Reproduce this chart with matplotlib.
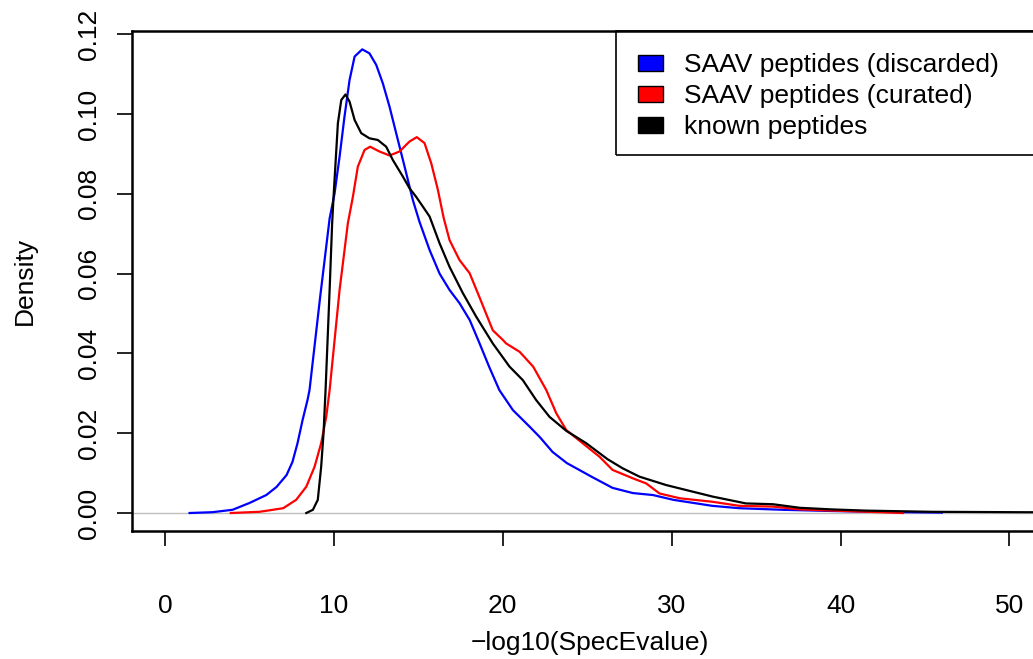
import matplotlib
matplotlib.use("Agg")
import matplotlib.pyplot as plt
from matplotlib.patches import Patch, Rectangle

plt.rcParams['font.family'] = ['Liberation Sans', 'DejaVu Sans']

# ---- data ----
series_names = ["SAAV peptides (discarded)", "SAAV peptides (curated)", "known peptides"]
series_colors = ["#0000FF", "#FF0000", "#000000"]

discarded_x = [1.46, 2.8, 4.0, 5.0, 6.0, 6.6, 7.2, 7.55, 7.85, 8.15, 8.44, 8.56, 9.2, 9.75,
               10.04, 10.34, 10.63, 10.93, 11.23, 11.68, 12.11, 12.51, 12.9, 13.3, 13.69,
               14.19, 14.68, 15.07, 15.67, 16.26, 16.85, 17.44, 18.04, 18.6, 19.2, 19.8,
               20.6, 21.6, 22.2, 22.95, 23.8, 25.3, 26.5, 27.7, 28.9, 30.1, 32.4, 34.0,
               36.6, 39.5, 42.0, 46.0]
discarded_y = [0.0000, 0.0002, 0.0008, 0.0025, 0.0045, 0.0065, 0.0095, 0.0128, 0.0175,
               0.0233, 0.0283, 0.0308, 0.0545, 0.0738, 0.0800, 0.0893, 0.0993, 0.1085,
               0.1144, 0.1162, 0.1152, 0.1123, 0.1077, 0.1018, 0.0952, 0.0868, 0.0784,
               0.0730, 0.0659, 0.0600, 0.0559, 0.0526, 0.0484, 0.0428, 0.0366, 0.0308,
               0.0258, 0.0216, 0.0190, 0.0153, 0.0125, 0.0090, 0.0063, 0.0050, 0.0045,
               0.0033, 0.0018, 0.0012, 0.0008, 0.0005, 0.0003, 0.0001]

curated_x = [3.9, 5.6, 7.0, 7.77, 8.37, 8.86, 9.25, 9.55, 9.75, 10.34, 10.83, 11.13, 11.42,
             11.82, 12.15, 12.7, 13.3, 13.89, 14.48, 14.91, 15.37, 15.77, 16.16, 16.5,
             16.85, 17.44, 18.04, 18.63, 19.41, 20.0, 20.2, 21.0, 21.8, 22.58, 23.17,
             23.76, 24.55, 25.73, 26.5, 27.7, 28.5, 29.28, 30.47, 32.44, 34.0, 36.0,
             37.6, 39.5, 42.3, 43.7]
curated_y = [0.0000, 0.0003, 0.0012, 0.0033, 0.0066, 0.0116, 0.0175, 0.0241, 0.0308,
             0.0559, 0.0726, 0.0793, 0.0868, 0.0910, 0.0918, 0.0906, 0.0896, 0.0906,
             0.0931, 0.0942, 0.0927, 0.0876, 0.0810, 0.0740, 0.0684, 0.0634, 0.0601,
             0.0540, 0.0458, 0.0434, 0.0425, 0.0404, 0.0367, 0.0308, 0.0250, 0.0208,
             0.0181, 0.0141, 0.0108, 0.0087, 0.0074, 0.0049, 0.0037, 0.0028, 0.0018,
             0.0016, 0.0009, 0.0006, 0.0002, 0.0000]

known_x = [8.37, 8.76, 9.05, 9.25, 9.39, 9.51, 9.75, 9.9, 9.98, 10.24, 10.44, 10.69, 10.93,
           11.23, 11.62, 12.11, 12.6, 13.1, 13.49, 14.09, 14.48, 14.88, 15.27, 15.67,
           16.26, 16.85, 17.64, 18.43, 19.41, 20.4, 21.19, 21.98, 22.77, 23.76, 24.94,
           26.2, 27.1, 28.1, 29.68, 32.44, 34.4, 36.0, 37.6, 39.5, 41.5, 45.4, 50.6,
           60.0, 88.0]
known_y = [0.0000, 0.0008, 0.0033, 0.0116, 0.0200, 0.0308, 0.0559, 0.0726, 0.0790,
           0.0977, 0.1035, 0.1049, 0.1031, 0.0985, 0.0952, 0.0939, 0.0935, 0.0918,
           0.0885, 0.0843, 0.0814, 0.0792, 0.0768, 0.0743, 0.0676, 0.0617, 0.0551,
           0.0492, 0.0425, 0.0367, 0.0333, 0.0283, 0.0241, 0.0206, 0.0175, 0.0135,
           0.0112, 0.0091, 0.0070, 0.0041, 0.0024, 0.0022, 0.0013, 0.0009, 0.0006,
           0.0003, 0.0002, 0.0001, 0.0000]

x_ticks = [0, 10, 20, 30, 40, 50]
y_ticks = [0.00, 0.02, 0.04, 0.06, 0.08, 0.10, 0.12]
y_tick_labels = ["0.00", "0.02", "0.04", "0.06", "0.08", "0.10", "0.12"]
x_label = "\u2212log10(SpecEvalue)"
y_label = "Density"

# ---- figure ----
W, H = 1033, 659
fig = plt.figure(figsize=(W / 100, H / 100), dpi=100)
xlim = (-1.95, 91.2)
ylim = (-0.00451, 0.1208)
left_px, right_px, top_px, bottom_px = 132, 132 + (xlim[1] - xlim[0]) * 16.89, 31, 531
ax = fig.add_axes([left_px / W, (H - bottom_px) / H,
                   (right_px - left_px) / W, (bottom_px - top_px) / H])
ax.set_xlim(*xlim)
ax.set_ylim(*ylim)

ax.axhline(0, color="#BEBEBE", lw=1.0, zorder=1)
for xs, ys, c in [(discarded_x, discarded_y, series_colors[0]),
                  (curated_x, curated_y, series_colors[1]),
                  (known_x, known_y, series_colors[2])]:
    ax.plot(xs, ys, color=c, lw=1.6, zorder=2, solid_joinstyle="round")

for s in ax.spines.values():
    s.set_linewidth(1.8)
    s.set_color("black")

fs = 19
ax.set_xticks(x_ticks)
ax.set_xticklabels([str(v) for v in x_ticks], fontsize=fs)
ax.set_yticks(y_ticks)
ax.set_yticklabels(y_tick_labels, fontsize=fs, rotation=90, va="center")
ax.tick_params(axis="both", direction="out", length=10.5, width=1.2, color="black")
ax.tick_params(axis="x", pad=35)
ax.tick_params(axis="y", pad=12)

fig.text(590 / W, 1 - 643 / H, x_label, fontsize=fs, ha="center", va="center")
fig.text(25 / W, 1 - 281 / H, y_label, fontsize=fs, ha="center", va="center", rotation=90)

# legend (frame drawn separately; it runs past the right edge as in the reference)
handles = [Patch(facecolor=c, edgecolor="black", linewidth=1.0) for c in series_colors]
leg = fig.legend(handles, series_names, loc="upper left",
                 bbox_to_anchor=(616 / W, 1 - 31 / H), fontsize=fs, frameon=False,
                 borderpad=0.85, handlelength=0.92, handleheight=0.58,
                 handletextpad=0.8, labelspacing=0.26, borderaxespad=0.0)
fig.add_artist(Rectangle((616 / W, 1 - 155 / H), 0.6, 124 / H,
                         transform=fig.transFigure, fill=False,
                         edgecolor="black", linewidth=1.2, zorder=5))

fig.savefig("out.png", dpi=100)
